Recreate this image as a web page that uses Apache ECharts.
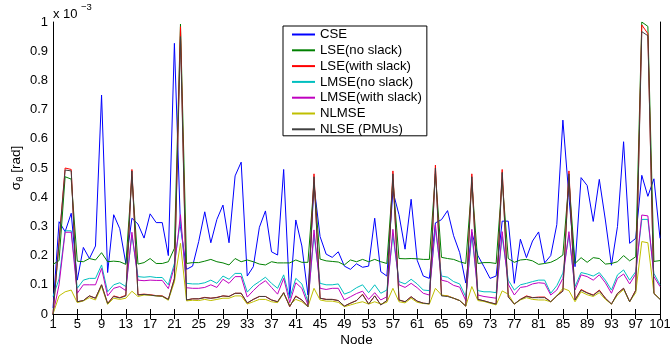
<!DOCTYPE html>
<html><head><meta charset="utf-8">
<script src="https://cdn.jsdelivr.net/npm/echarts@6/dist/echarts.min.js"></script>
<style>html,body{margin:0;padding:0;background:#fff}#c{width:670px;height:351px}</style>
</head><body><div id="c"></div>
<script>
// node categories (x axis)
const nodes = ['1','2','3','4','5','6','7','8','9','10','11','12','13','14','15','16','17','18','19','20',
'21','22','23','24','25','26','27','28','29','30','31','32','33','34','35','36','37','38','39','40',
'41','42','43','44','45','46','47','48','49','50','51','52','53','54','55','56','57','58','59','60',
'61','62','63','64','65','66','67','68','69','70','71','72','73','74','75','76','77','78','79','80',
'81','82','83','84','85','86','87','88','89','90','91','92','93','94','95','96','97','98','99','100','101'];

// values in units of 1e-3 rad
const cse = [0.02,0.316,0.282,0.345,0.116,0.228,0.19,0.233,0.75,0.142,0.34,0.292,0.173,0.328,0.308,0.26,0.343,0.313,0.313,0.2,
0.927,0.3,0.153,0.164,0.248,0.35,0.244,0.324,0.373,0.244,0.473,0.52,0.13,0.162,0.297,0.353,0.213,0.202,0.495,0.055,
0.322,0.233,0.065,0.44,0.265,0.205,0.194,0.213,0.164,0.153,0.172,0.16,0.164,0.328,0.145,0.13,0.42,0.34,0.222,0.393,
0.184,0.13,0.122,0.312,0.323,0.354,0.268,0.21,0.106,0.28,0.2,0.162,0.122,0.13,0.318,0.318,0.105,0.256,0.193,0.25,
0.281,0.175,0.2,0.306,0.664,0.4,0.162,0.467,0.44,0.317,0.461,0.322,0.167,0.3,0.59,0.242,0.259,0.475,0.403,0.463,0.259];

const lseNoSlack = [0.17,0.183,0.47,0.462,0.181,0.179,0.19,0.185,0.21,0.179,0.181,0.179,0.17,0.47,0.171,0.176,0.19,0.173,0.173,0.179,
0.225,0.993,0.173,0.176,0.176,0.181,0.187,0.179,0.175,0.168,0.19,0.179,0.185,0.179,0.171,0.168,0.179,0.175,0.175,0.175,
0.185,0.177,0.177,0.45,0.188,0.182,0.18,0.178,0.168,0.185,0.179,0.187,0.179,0.187,0.179,0.173,0.46,0.19,0.189,0.19,
0.189,0.187,0.187,0.48,0.194,0.19,0.187,0.179,0.173,0.45,0.173,0.176,0.176,0.173,0.46,0.19,0.177,0.185,0.187,0.182,
0.17,0.173,0.177,0.187,0.202,0.46,0.173,0.193,0.177,0.193,0.19,0.171,0.173,0.179,0.2,0.182,0.196,1.0,0.985,0.18,0.183];

const lseSlack = [0.0,0.25,0.5,0.495,0.042,0.046,0.062,0.054,0.1,0.036,0.062,0.056,0.064,0.495,0.066,0.068,0.066,0.063,0.062,0.05,
0.122,0.984,0.048,0.052,0.052,0.057,0.054,0.057,0.062,0.06,0.071,0.071,0.037,0.05,0.06,0.06,0.048,0.042,0.073,0.025,
0.062,0.048,0.025,0.48,0.054,0.05,0.05,0.046,0.027,0.037,0.046,0.068,0.034,0.062,0.031,0.046,0.49,0.048,0.042,0.059,
0.044,0.037,0.035,0.51,0.064,0.062,0.054,0.046,0.027,0.48,0.05,0.045,0.039,0.034,0.495,0.06,0.034,0.05,0.062,0.056,
0.058,0.058,0.042,0.062,0.08,0.49,0.048,0.084,0.073,0.065,0.082,0.054,0.034,0.071,0.088,0.042,0.082,0.99,0.96,0.071,0.051];

const lmseNoSlack = [0.06,0.12,0.285,0.285,0.088,0.116,0.122,0.122,0.168,0.076,0.1,0.107,0.094,0.27,0.128,0.126,0.128,0.125,0.125,0.1,
0.173,0.32,0.105,0.103,0.103,0.107,0.116,0.105,0.13,0.119,0.139,0.139,0.075,0.097,0.111,0.126,0.105,0.088,0.134,0.054,
0.122,0.103,0.042,0.27,0.105,0.1,0.1,0.103,0.068,0.076,0.09,0.1,0.073,0.1,0.071,0.082,0.27,0.111,0.103,0.119,
0.103,0.082,0.08,0.29,0.13,0.126,0.111,0.103,0.059,0.27,0.08,0.076,0.076,0.073,0.265,0.116,0.082,0.1,0.105,0.111,
0.116,0.116,0.071,0.097,0.14,0.27,0.094,0.142,0.137,0.13,0.142,0.116,0.082,0.134,0.151,0.116,0.145,0.324,0.324,0.139,0.1];

const lmseSlack = [0.0,0.1,0.28,0.28,0.071,0.1,0.1,0.1,0.156,0.062,0.088,0.094,0.08,0.28,0.116,0.114,0.116,0.115,0.115,0.087,
0.162,0.34,0.09,0.088,0.088,0.091,0.1,0.091,0.119,0.105,0.128,0.128,0.058,0.08,0.1,0.114,0.091,0.068,0.122,0.039,
0.107,0.088,0.031,0.288,0.088,0.084,0.088,0.088,0.048,0.059,0.07,0.078,0.05,0.073,0.048,0.059,0.29,0.1,0.091,0.105,
0.09,0.071,0.065,0.305,0.116,0.111,0.098,0.092,0.046,0.29,0.065,0.06,0.057,0.054,0.282,0.102,0.065,0.091,0.094,0.103,
0.107,0.105,0.065,0.082,0.122,0.282,0.082,0.134,0.128,0.116,0.134,0.107,0.071,0.122,0.137,0.103,0.137,0.339,0.336,0.128,0.094];

const nlmse = [0.0,0.062,0.076,0.082,0.039,0.045,0.056,0.048,0.095,0.033,0.054,0.05,0.054,0.078,0.06,0.065,0.064,0.062,0.06,0.047,
0.11,0.242,0.045,0.047,0.046,0.05,0.046,0.05,0.054,0.054,0.062,0.062,0.034,0.042,0.05,0.05,0.042,0.039,0.071,0.031,
0.05,0.042,0.025,0.088,0.048,0.044,0.044,0.04,0.025,0.031,0.037,0.042,0.034,0.042,0.034,0.04,0.088,0.042,0.038,0.054,
0.04,0.036,0.034,0.088,0.065,0.062,0.054,0.046,0.027,0.094,0.046,0.043,0.037,0.031,0.079,0.068,0.034,0.048,0.056,0.05,
0.048,0.048,0.042,0.062,0.088,0.08,0.042,0.076,0.066,0.06,0.073,0.05,0.034,0.065,0.084,0.042,0.073,0.248,0.244,0.071,0.051];

const nlsePmu = [0.0,0.245,0.493,0.49,0.042,0.046,0.062,0.054,0.1,0.036,0.06,0.055,0.062,0.49,0.065,0.067,0.065,0.062,0.061,0.05,
0.12,0.95,0.048,0.052,0.052,0.056,0.054,0.056,0.062,0.06,0.071,0.071,0.038,0.05,0.06,0.06,0.048,0.042,0.073,0.026,
0.06,0.048,0.025,0.47,0.054,0.05,0.05,0.046,0.027,0.037,0.046,0.066,0.034,0.062,0.031,0.046,0.48,0.048,0.042,0.059,
0.044,0.037,0.035,0.5,0.062,0.06,0.054,0.046,0.027,0.47,0.05,0.045,0.039,0.034,0.485,0.058,0.034,0.05,0.06,0.056,
0.056,0.056,0.042,0.062,0.078,0.48,0.048,0.082,0.072,0.064,0.08,0.054,0.034,0.07,0.088,0.042,0.08,0.967,0.953,0.07,0.05];

const seriesNames = ['CSE','LSE(no slack)','LSE(with slack)','LMSE(no slack)','LMSE(with slack)','NLMSE','NLSE (PMUs)'];
const seriesColors = ['#0000ff','#008000','#ff0000','#00bfbf','#bf00bf','#bfbf00','#404040'];
const seriesData = [cse, lseNoSlack, lseSlack, lmseNoSlack, lmseSlack, nlmse, nlsePmu];

const FONT = 'Liberation Sans, Arial, Helvetica, sans-serif';
const chart = echarts.init(document.getElementById('c'), null, {renderer:'canvas'});

const tickStyle = {inside:true, length:5, lineStyle:{color:'#000', width:1}};
const lineAx = {show:true, lineStyle:{color:'#000', width:1}};

chart.setOption({
  animation:false,
  backgroundColor:'#fff',
  grid:{left:53, right:10, top:22, bottom:37, containLabel:false, outerBoundsMode:'none'},
  legend:{
    orient:'vertical', left:283, top:26,
    backgroundColor:'#fff', borderColor:'#000', borderWidth:1, borderRadius:0,
    padding:[2,5,0,8], itemWidth:23, itemHeight:13, itemGap:2.8,
    itemStyle:{opacity:0},
    textStyle:{fontSize:13.2, color:'#000', fontFamily:FONT},
    data:seriesNames
  },
  xAxis:[
    {type:'category', data:nodes, boundaryGap:false, axisLine:lineAx,
     axisTick:Object.assign({interval:3}, tickStyle),
     axisLabel:{interval:3, color:'#000', fontSize:13, fontFamily:FONT, margin:4},
     splitLine:{show:false},
     name:'Node', nameLocation:'middle', nameGap:19, nameMoveOverlap:false,
     nameTextStyle:{fontSize:13.5, color:'#000', fontFamily:FONT}},
    {type:'category', data:nodes, boundaryGap:false, position:'top', axisLine:lineAx,
     axisTick:Object.assign({interval:3}, tickStyle), axisLabel:{show:false}, splitLine:{show:false}}
  ],
  yAxis:[
    {type:'value', min:0, max:1, interval:0.1, axisLine:lineAx, axisTick:tickStyle,
     splitLine:{show:false},
     axisLabel:{color:'#000', fontSize:13, fontFamily:FONT, margin:5,
       formatter:v=>String(Math.round(v*10)/10)},
     name:'{a|σ}{b|θ}{a| [rad]}', nameLocation:'middle', nameGap:28, nameRotate:90, nameMoveOverlap:false,
     nameTextStyle:{color:'#000', fontFamily:FONT,
       rich:{a:{fontSize:13.5, fontFamily:FONT, color:'#000', lineHeight:18},
             b:{fontSize:9.5, fontFamily:FONT, color:'#000', lineHeight:10, verticalAlign:'bottom'}}}},
    {type:'value', min:0, max:1, interval:0.1, position:'right', axisLine:lineAx, axisTick:tickStyle,
     splitLine:{show:false}, axisLabel:{show:false}}
  ],
  graphic:[
    {type:'text', left:53, top:8, style:{text:'x 10', fontSize:13, fontFamily:FONT, fill:'#000'}},
    {type:'text', left:81, top:2, style:{text:'−3', fontSize:9.5, fontFamily:FONT, fill:'#000'}}
  ],
  series: seriesNames.map((n,i)=>({
    name:n, type:'line', data:seriesData[i], symbol:'none', showSymbol:false,
    xAxisIndex:0, yAxisIndex:0,
    lineStyle:{color:seriesColors[i], width:1}, itemStyle:{color:seriesColors[i]},
    emphasis:{disabled:true}
  }))
});
</script>
</body></html>
